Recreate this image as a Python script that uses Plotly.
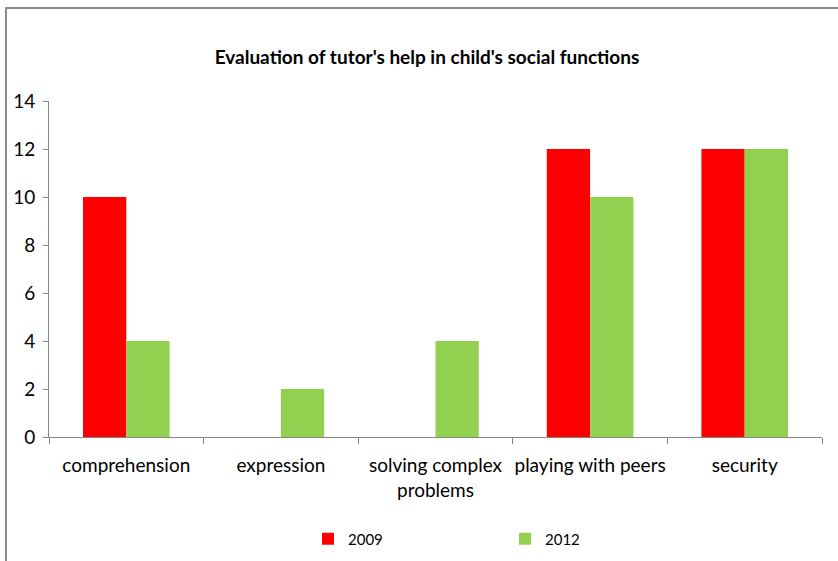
import plotly.graph_objects as go

categories = ["comprehension", "expression", "solving complex<br>problems", "playing with peers", "security"]
series_names = ["2009", "2012"]
values_2009 = [10, 0, 0, 12, 12]
values_2012 = [4, 2, 4, 10, 12]
y_ticks = [0, 2, 4, 6, 8, 10, 12, 14]

W, H = 838, 561
L, R, T, B = 49, 16, 101, 124
pw, ph = W - L - R, H - T - B

font_family = "Lato, 'Open Sans', sans-serif"

fig = go.Figure()
fig.add_trace(go.Bar(x=categories, y=values_2009, name=series_names[0],
                     marker=dict(color="#ff0000", line=dict(color="#c00000", width=0))))
fig.add_trace(go.Bar(x=categories, y=values_2012, name=series_names[1],
                     marker=dict(color="#92d050", line=dict(color="#6a9a3a", width=0))))

fig.update_layout(
    width=W, height=H,
    margin=dict(l=L, r=R, t=T, b=B, autoexpand=False),
    paper_bgcolor="white", plot_bgcolor="white",
    barmode="group", bargap=0.44, bargroupgap=0,
    font=dict(family=font_family, color="black", size=19),
    title=dict(text="<b>Evaluation of tutor's help in child's social functions</b>",
               x=427 / W, xanchor="center", yref="container", y=1 - 57 / H, yanchor="middle",
               font=dict(size=19, family=font_family)),
    legend=dict(orientation="h", x=(308 - L) / pw, xanchor="left",
                y=(437 - 539) / ph, yanchor="middle",
                entrywidth=152, entrywidthmode="pixels",
                font=dict(size=15), itemwidth=30),
    xaxis=dict(showline=True, linecolor="#868686", linewidth=1, automargin=False,
               ticks="outside", tickson="boundaries", ticklen=6, tickcolor="#868686",
               tickfont=dict(size=19), tickangle=0, showgrid=False, ticklabelstandoff=11),
    yaxis=dict(range=[0, 14], tickvals=y_ticks, showline=True, linecolor="#868686",
               linewidth=1, ticks="outside", ticklen=5, tickcolor="#868686", automargin=False,
               showgrid=False, zeroline=False, tickfont=dict(size=19), ticklabelstandoff=4),
)

# outer frame of the original chart (left and top edges visible)
fig.add_shape(type="rect", xref="paper", yref="paper",
              x0=(6 - L) / pw, x1=(W + 20 - L) / pw,
              y0=-(B + 20) / ph, y1=1 + (T - 8) / ph,
              line=dict(color="#8c8c8c", width=2), fillcolor="rgba(0,0,0,0)", layer="below")

fig.write_html("out.html", config={"displayModeBar": False},
               post_script="document.body.style.margin='0';document.body.style.padding='0';")
